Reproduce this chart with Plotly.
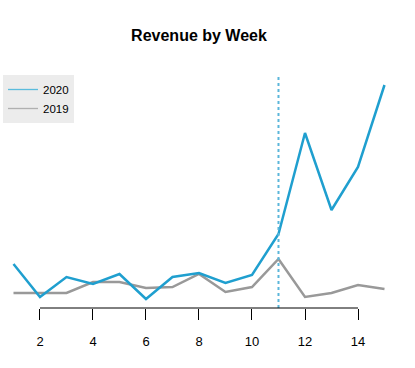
import plotly.graph_objects as go

weeks = list(range(1, 16))
rev_2020 = [2800, 1150, 2150, 1800, 2300, 1050, 2150, 2350, 1850, 2250, 4300, 9350, 5500, 7650, 11750]
rev_2019 = [1350, 1350, 1350, 1900, 1900, 1600, 1650, 2300, 1400, 1650, 3050, 1150, 1350, 1750, 1550]
tick_vals = [2, 4, 6, 8, 10, 12, 14]
marker_week = 11

BLUE = "#1F9FCF"
GRAY = "#999999"

fig = go.Figure()
fig.add_trace(go.Scatter(x=weeks, y=rev_2019, mode="lines", line=dict(color=GRAY, width=2.5),
                         showlegend=False, hoverinfo="skip"))
fig.add_trace(go.Scatter(x=weeks, y=rev_2020, mode="lines", line=dict(color=BLUE, width=2.5),
                         showlegend=False, hoverinfo="skip"))
# legend entries (thin lines)
fig.add_trace(go.Scatter(x=[None], y=[None], mode="lines", name="2020",
                         line=dict(color="#5BBCDD", width=1.3)))
fig.add_trace(go.Scatter(x=[None], y=[None], mode="lines", name="2019",
                         line=dict(color="#B0B0B0", width=1.3)))

fig.add_vline(x=marker_week, line=dict(color="#5BB6DA", width=2, dash="dot"))

# R-style axis line spanning first to last tick
fig.add_shape(type="line", xref="x", yref="paper", x0=tick_vals[0], x1=tick_vals[-1], y0=0, y1=0,
              line=dict(color="black", width=1))

fig.update_layout(
    width=415, height=368,
    margin=dict(l=0, r=15, t=76, b=60),
    paper_bgcolor="white", plot_bgcolor="white",
    font=dict(family="Liberation Sans, Arial, sans-serif", color="black"),
    title=dict(text="<b>Revenue by Week</b>", x=199 / 415, xref="container", xanchor="center",
               y=1 - 35 / 368, yref="container", yanchor="middle", font=dict(size=16)),
    showlegend=True,
    legend=dict(x=3 / 400, xref="paper", y=1 + 1 / 232, yanchor="top", xanchor="left",
                bgcolor="#ECECEC", borderwidth=0, font=dict(size=11.5),
                tracegroupgap=0, itemwidth=30),
    xaxis=dict(range=[0.491, 15.585], tickvals=tick_vals, ticks="outside", ticklen=11,
               tickcolor="black", tickwidth=1, showgrid=False, zeroline=False, showline=False,
               tickfont=dict(size=13), ticklabelstandoff=10),
    yaxis=dict(range=[600, 12200], visible=False, showgrid=False, zeroline=False),
)

fig.write_html("out.html", config={"displayModeBar": False},
               post_script="document.body.style.margin='0';")
